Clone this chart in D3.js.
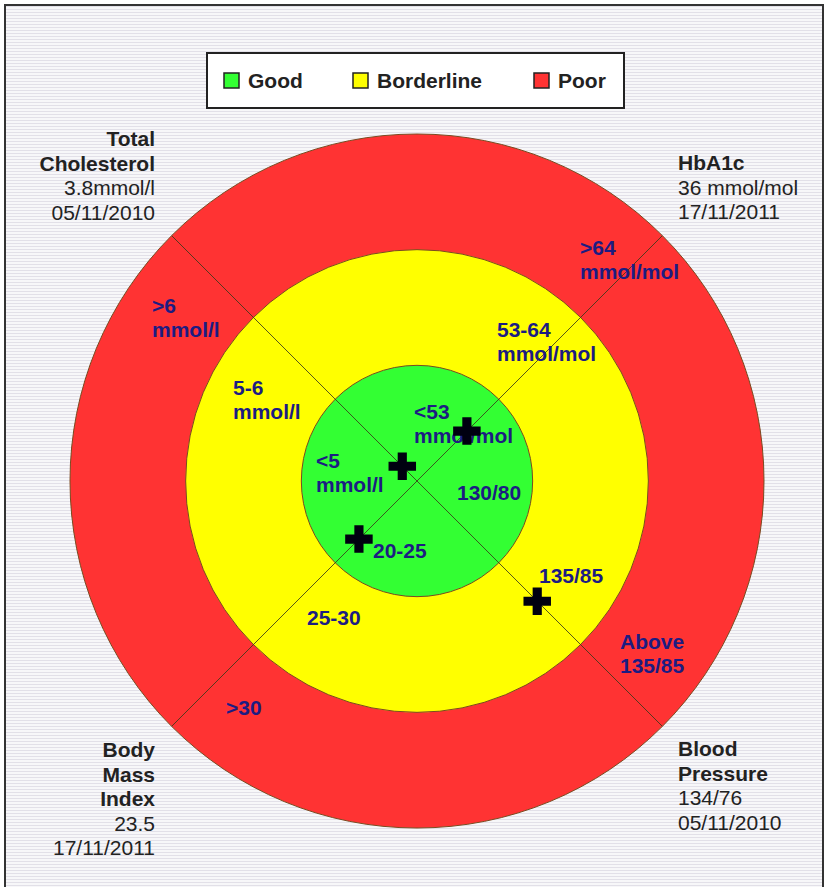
<!DOCTYPE html>
<html>
<head>
<meta charset="utf-8">
<script src="https://cdn.jsdelivr.net/npm/d3@7"></script>
<style>
  html, body { margin: 0; padding: 0; background: #fff; }
  svg { display: block; font-family: "Liberation Sans", Arial, sans-serif; }
</style>
</head>
<body>
<svg id="chart"></svg>
<script>
// bands from inside out
var bands = ['Good', 'Borderline', 'Poor'];
var bandColors = ['#33ff33', '#ffff00', '#ff3333'];

// metrics, clockwise from top-left
var metrics = ['Total Cholesterol', 'HbA1c', 'Blood Pressure', 'Body Mass Index'];
var metricAngles = [-45, 45, 135, 225];
var metricTitles = [['Total', 'Cholesterol'], ['HbA1c'], ['Blood', 'Pressure'], ['Body', 'Mass', 'Index']];
var metricValues = ['3.8mmol/l', '36 mmol/mol', '134/76', '23.5'];
var metricDates = ['05/11/2010', '17/11/2011', '05/11/2010', '17/11/2011'];

// marker position in band units (0-1 good, 1-2 borderline, 2-3 poor)
var metricScores = [0.18, 0.61, 1.47, 0.71];

// band labels per metric (good, borderline, poor)
var bandLabels = [
    [['<5', 'mmol/l'], ['5-6', 'mmol/l'], ['>6', 'mmol/l']],
    [['<53', 'mmol/mol'], ['53-64', 'mmol/mol'], ['>64', 'mmol/mol']],
    [['130/80'], ['135/85'], ['Above', '135/85']],
    [['20-25'], ['25-30'], ['>30']]
];

var width = 827,
    height = 887,
    cx = 417,
    cy = 481,
    R = 347,
    navy = '#1c1c82',
    ink = '#222';

// label offsets from the centre (text placement only)
var bandLabelPos = [
    [[-101, -13], [-184, -86], [-265, -168]],
    [[-3, -62], [80, -144], [163, -226]],
    [[40, 19], [122, 102], [203, 168]],
    [[-44, 77], [-110, 144], [-191, 234]]
];
var titlePos = [[155, 146, 'end'], [678, 170, 'start'], [678, 756, 'start'], [155, 757, 'end']];

var svg = d3.select('#chart')
    .attr('width', width)
    .attr('height', height);

var defs = svg.append('defs');
var pat = defs.append('pattern')
    .attr('id', 'stripes')
    .attr('patternUnits', 'userSpaceOnUse')
    .attr('width', 4)
    .attr('height', 3);
pat.append('rect').attr('width', 4).attr('height', 3).attr('fill', '#f7f7f9');
pat.append('rect').attr('width', 4).attr('height', 1).attr('fill', '#e2e0e8');

svg.append('rect')
    .attr('x', 5)
    .attr('y', 5)
    .attr('width', 818)
    .attr('height', 900)
    .attr('fill', 'url(#stripes)')
    .attr('stroke', '#333')
    .attr('stroke-width', 2);

var r = d3.scaleLinear().domain([0, bands.length]).range([0, R]);
var color = d3.scaleOrdinal().domain(bands).range(bandColors);

var g = svg.append('g').attr('transform', 'translate(' + cx + ',' + cy + ')');

// rings, drawn from the outside in
g.selectAll('circle.band')
    .data(bands.slice().reverse())
    .enter()
    .append('circle')
    .attr('class', 'band')
    .attr('r', function (d) { return r(bands.indexOf(d) + 1); })
    .attr('fill', function (d) { return color(d); })
    .attr('stroke', '#7a4a20')
    .attr('stroke-width', 1);

// diagonal spokes
g.selectAll('line.spoke')
    .data(metricAngles)
    .enter()
    .append('line')
    .attr('class', 'spoke')
    .attr('x1', 0)
    .attr('y1', 0)
    .attr('x2', function (a) { return r(bands.length) * Math.sin(a * Math.PI / 180); })
    .attr('y2', function (a) { return -r(bands.length) * Math.cos(a * Math.PI / 180); })
    .attr('stroke', '#3a3a1a')
    .attr('stroke-opacity', 0.85)
    .attr('stroke-width', 1);

// band labels
bandLabels.forEach(function (labels, i) {
    labels.forEach(function (lines, j) {
        var p = bandLabelPos[i][j];
        var t = g.append('text')
            .attr('x', p[0])
            .attr('y', p[1])
            .attr('fill', navy)
            .style('font-size', '21px')
            .style('font-weight', 'bold');
        lines.forEach(function (line, k) {
            t.append('tspan')
                .attr('x', p[0])
                .attr('dy', k ? 24 : 0)
                .text(line);
        });
    });
});

// markers
g.selectAll('path.marker')
    .data(metrics)
    .enter()
    .append('path')
    .attr('class', 'marker')
    .attr('d', d3.symbol(d3.symbolCross, 420))
    .attr('fill', '#000010')
    .attr('transform', function (d, i) {
        var a = metricAngles[i] * Math.PI / 180,
            rr = r(metricScores[i]);
        return 'translate(' + (rr * Math.sin(a)) + ',' + (-rr * Math.cos(a)) + ')';
    });

// corner titles
metrics.forEach(function (m, i) {
    var p = titlePos[i];
    var t = svg.append('text')
        .attr('x', p[0])
        .attr('y', p[1])
        .attr('text-anchor', p[2])
        .attr('fill', ink)
        .style('font-size', '21px');
    var lines = metricTitles[i].map(function (s) { return {text: s, bold: true}; })
        .concat([{text: metricValues[i], bold: false}, {text: metricDates[i], bold: false}]);
    lines.forEach(function (l, k) {
        t.append('tspan')
            .attr('x', p[0])
            .attr('dy', k ? 24.5 : 0)
            .style('font-weight', l.bold ? 'bold' : 'normal')
            .text(l.text);
    });
});

// legend
var legend = svg.append('g');
legend.append('rect')
    .attr('x', 207)
    .attr('y', 53)
    .attr('width', 417)
    .attr('height', 55)
    .attr('fill', '#fff')
    .attr('stroke', ink)
    .attr('stroke-width', 2);

var legendX = [224, 353, 534];
var items = legend.selectAll('g.item')
    .data(bands)
    .enter()
    .append('g')
    .attr('class', 'item')
    .attr('transform', function (d, i) { return 'translate(' + legendX[i] + ',73)'; });
items.append('rect')
    .attr('width', 15)
    .attr('height', 15)
    .attr('fill', function (d) { return color(d); })
    .attr('stroke', ink)
    .attr('stroke-width', 1.5);
items.append('text')
    .attr('x', 24)
    .attr('y', 15)
    .attr('fill', ink)
    .style('font-size', '21px')
    .style('font-weight', 'bold')
    .text(function (d) { return d; });
</script>
</body>
</html>
